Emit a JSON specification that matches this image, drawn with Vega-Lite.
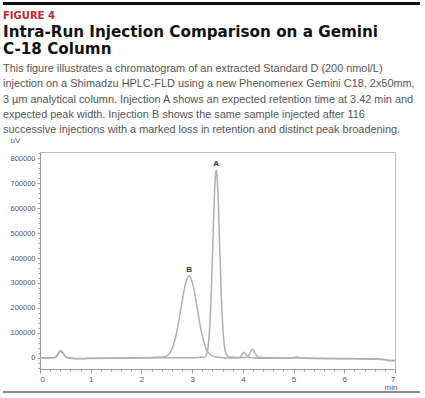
{
  "$schema": "https://vega.github.io/schema/vega-lite/v6.json",
  "padding": {"left": 3, "top": 2, "right": 2, "bottom": 2},
  "spacing": 0,
  "config": {"view": {"stroke": null}, "font": "Liberation Sans"},
  "vconcat": [
    {
      "width": 417,
      "height": 3,
      "data": {"values": [{"part": "top rule"}]},
      "mark": {"type": "rect", "color": "#111111"},
      "encoding": {},
      "title": {
        "text": "FIGURE 4",
        "subtitle": " ",
        "orient": "bottom",
        "anchor": "start",
        "frame": "group",
        "offset": 6,
        "font": "DejaVu Sans",
        "fontSize": 10,
        "fontWeight": "bold",
        "color": "#c1272d",
        "subtitleFontSize": 3,
        "subtitlePadding": 0.5
      }
    },
    {
      "width": 392,
      "height": 217,
      "title": {
        "text": ["Intra-Run Injection Comparison on a Gemini", "C-18 Column"],
        "subtitle": [
          "This figure illustrates a chromatogram of an extracted Standard D (200 nmol/L)",
          "injection on a Shimadzu HPLC-FLD using a new Phenomenex Gemini C18, 2x50mm,",
          "3 µm analytical column. Injection A shows an expected retention time at 3.42 min and",
          "expected peak width. Injection B shows the same sample injected after 116",
          "successive injections with a marked loss in retention and distinct peak broadening."
        ],
        "anchor": "start",
        "frame": "group",
        "offset": 1,
        "font": "DejaVu Sans",
        "fontSize": 15.2,
        "fontWeight": "bold",
        "color": "#111111",
        "lineHeight": 16.5,
        "subtitleFont": "Liberation Sans",
        "subtitleFontSize": 10.9,
        "subtitleColor": "#555555",
        "subtitleLineHeight": 15.25,
        "subtitlePadding": 6
      },
      "resolve": {"axis": {"x": "independent", "y": "independent"}},
      "layer": [
        {
          "data": {
            "values": [
              {"s": "A", "t": 0, "v": 0},
              {"s": "A", "t": 0.2, "v": 500},
              {"s": "A", "t": 0.3, "v": 1600},
              {"s": "A", "t": 0.33, "v": 8000},
              {"s": "A", "t": 0.37, "v": 21000},
              {"s": "A", "t": 0.41, "v": 29000},
              {"s": "A", "t": 0.45, "v": 21000},
              {"s": "A", "t": 0.49, "v": 8500},
              {"s": "A", "t": 0.53, "v": 2500},
              {"s": "A", "t": 0.6, "v": -1000},
              {"s": "A", "t": 0.7, "v": -2500},
              {"s": "A", "t": 0.85, "v": -3000},
              {"s": "A", "t": 1.0, "v": -1500},
              {"s": "A", "t": 1.5, "v": -1000},
              {"s": "A", "t": 2.0, "v": -500},
              {"s": "A", "t": 2.5, "v": 0},
              {"s": "A", "t": 3.0, "v": 500},
              {"s": "A", "t": 3.15, "v": 1500},
              {"s": "A", "t": 3.25, "v": 3000},
              {"s": "A", "t": 3.29, "v": 16500},
              {"s": "A", "t": 3.32, "v": 51700},
              {"s": "A", "t": 3.35, "v": 132000},
              {"s": "A", "t": 3.38, "v": 275000},
              {"s": "A", "t": 3.41, "v": 470000},
              {"s": "A", "t": 3.44, "v": 656000},
              {"s": "A", "t": 3.46, "v": 733000},
              {"s": "A", "t": 3.475, "v": 752000},
              {"s": "A", "t": 3.49, "v": 733000},
              {"s": "A", "t": 3.51, "v": 656000},
              {"s": "A", "t": 3.54, "v": 470000},
              {"s": "A", "t": 3.57, "v": 275000},
              {"s": "A", "t": 3.6, "v": 140000},
              {"s": "A", "t": 3.63, "v": 58000},
              {"s": "A", "t": 3.66, "v": 22000},
              {"s": "A", "t": 3.7, "v": 7000},
              {"s": "A", "t": 3.75, "v": 3000},
              {"s": "A", "t": 3.85, "v": 1500},
              {"s": "A", "t": 3.95, "v": 1000},
              {"s": "A", "t": 4.05, "v": 1200},
              {"s": "A", "t": 4.11, "v": 7000},
              {"s": "A", "t": 4.15, "v": 23000},
              {"s": "A", "t": 4.19, "v": 34000},
              {"s": "A", "t": 4.23, "v": 23000},
              {"s": "A", "t": 4.27, "v": 8000},
              {"s": "A", "t": 4.31, "v": 2000},
              {"s": "A", "t": 4.4, "v": 500},
              {"s": "A", "t": 4.6, "v": 0},
              {"s": "A", "t": 5.0, "v": -500},
              {"s": "A", "t": 5.3, "v": -1500},
              {"s": "A", "t": 5.6, "v": -2500},
              {"s": "A", "t": 6.0, "v": -3000},
              {"s": "A", "t": 6.5, "v": -4000},
              {"s": "A", "t": 6.8, "v": -7000},
              {"s": "A", "t": 6.9, "v": -11000},
              {"s": "A", "t": 7.0, "v": -11000},
              {"s": "B", "t": 0, "v": -1000},
              {"s": "B", "t": 0.2, "v": -500},
              {"s": "B", "t": 0.3, "v": 1000},
              {"s": "B", "t": 0.33, "v": 6000},
              {"s": "B", "t": 0.37, "v": 18000},
              {"s": "B", "t": 0.41, "v": 25000},
              {"s": "B", "t": 0.45, "v": 18000},
              {"s": "B", "t": 0.49, "v": 7000},
              {"s": "B", "t": 0.53, "v": 1500},
              {"s": "B", "t": 0.6, "v": -2000},
              {"s": "B", "t": 0.7, "v": -3500},
              {"s": "B", "t": 0.85, "v": -4000},
              {"s": "B", "t": 1.0, "v": -2500},
              {"s": "B", "t": 1.5, "v": -1500},
              {"s": "B", "t": 2.0, "v": 0},
              {"s": "B", "t": 2.2, "v": 1000},
              {"s": "B", "t": 2.3, "v": 2000},
              {"s": "B", "t": 2.4, "v": 3000},
              {"s": "B", "t": 2.5, "v": 7500},
              {"s": "B", "t": 2.6, "v": 34000},
              {"s": "B", "t": 2.7, "v": 106500},
              {"s": "B", "t": 2.78, "v": 199000},
              {"s": "B", "t": 2.85, "v": 280000},
              {"s": "B", "t": 2.9, "v": 318000},
              {"s": "B", "t": 2.94, "v": 328000},
              {"s": "B", "t": 2.98, "v": 318000},
              {"s": "B", "t": 3.03, "v": 280000},
              {"s": "B", "t": 3.1, "v": 199000},
              {"s": "B", "t": 3.18, "v": 106500},
              {"s": "B", "t": 3.28, "v": 34000},
              {"s": "B", "t": 3.38, "v": 9000},
              {"s": "B", "t": 3.48, "v": 3000},
              {"s": "B", "t": 3.6, "v": 500},
              {"s": "B", "t": 3.8, "v": -1000},
              {"s": "B", "t": 3.92, "v": -500},
              {"s": "B", "t": 3.96, "v": 5000},
              {"s": "B", "t": 3.99, "v": 15000},
              {"s": "B", "t": 4.02, "v": 22000},
              {"s": "B", "t": 4.06, "v": 14000},
              {"s": "B", "t": 4.1, "v": 4000},
              {"s": "B", "t": 4.15, "v": 0},
              {"s": "B", "t": 4.3, "v": -1500},
              {"s": "B", "t": 4.6, "v": -2000},
              {"s": "B", "t": 4.95, "v": -2000},
              {"s": "B", "t": 5.0, "v": 0},
              {"s": "B", "t": 5.06, "v": 4000},
              {"s": "B", "t": 5.12, "v": 0},
              {"s": "B", "t": 5.3, "v": -1500},
              {"s": "B", "t": 5.6, "v": -3000},
              {"s": "B", "t": 6.0, "v": -4000},
              {"s": "B", "t": 6.5, "v": -5000},
              {"s": "B", "t": 6.8, "v": -8000},
              {"s": "B", "t": 6.9, "v": -12000},
              {"s": "B", "t": 7.0, "v": -11000}
            ]
          },
          "mark": {"type": "line", "color": "#b0b0b0", "strokeWidth": 1.5, "interpolate": "monotone"},
          "encoding": {
            "detail": {"field": "s"},
            "x": {
              "field": "t",
              "type": "quantitative",
              "scale": {"domain": [0, 7], "nice": false, "range": [37, 392]},
              "axis": {
                "orient": "bottom",
                "values": [0, 1, 2, 3, 4, 5, 6, 7],
                "grid": false,
                "title": "min",
                "titleX": 394,
                "titleY": 20,
                "titleAlign": "right",
                "titleBaseline": "alphabetic",
                "titleFontSize": 8,
                "titleFontWeight": "normal",
                "titleColor": "#555555",
                "labelFontSize": 8,
                "labelColor": "#555555",
                "labelPadding": 2,
                "tickSize": 4,
                "tickColor": "#999999",
                "domainColor": "#999999"
              }
            },
            "y": {
              "field": "v",
              "type": "quantitative",
              "scale": {"domain": [-45000, 825000], "nice": false, "zero": false},
              "axis": {
                "orient": "left",
                "offset": -37,
                "values": [0, 100000, 200000, 300000, 400000, 500000, 600000, 700000, 800000],
                "format": "d",
                "grid": false,
                "title": "uV",
                "titleAngle": 0,
                "titleX": -30,
                "titleY": -10,
                "titleAlign": "left",
                "titleBaseline": "alphabetic",
                "titleFontSize": 8,
                "titleFontWeight": "normal",
                "titleColor": "#555555",
                "labelFontSize": 7.5,
                "labelColor": "#555555",
                "labelPadding": 2,
                "tickSize": 3,
                "tickColor": "#999999",
                "domainColor": "#999999"
              }
            }
          }
        },
        {
          "data": {
            "values": [
              {"label": "A", "t": 3.475, "v": 752000},
              {"label": "B", "t": 2.94, "v": 328000}
            ]
          },
          "mark": {"type": "text", "dy": -4, "baseline": "alphabetic", "fontSize": 8, "fontWeight": "bold", "color": "#333333"},
          "encoding": {
            "text": {"field": "label"},
            "x": {
              "field": "t",
              "type": "quantitative",
              "axis": {
                "orient": "bottom",
                "values": [0, 0.2, 0.4, 0.6, 0.8, 1, 1.2, 1.4, 1.6, 1.8, 2, 2.2, 2.4, 2.6, 2.8, 3, 3.2, 3.4, 3.6, 3.8, 4, 4.2, 4.4, 4.6, 4.8, 5, 5.2, 5.4, 5.6, 5.8, 6, 6.2, 6.4, 6.6, 6.8, 7],
                "labels": false,
                "domain": false,
                "grid": false,
                "title": null,
                "tickSize": 2,
                "tickColor": "#999999"
              }
            },
            "y": {
              "field": "v",
              "type": "quantitative",
              "axis": {
                "orient": "left",
                "offset": -37,
                "values": [-40000, -20000, 0, 20000, 40000, 60000, 80000, 100000, 120000, 140000, 160000, 180000, 200000, 220000, 240000, 260000, 280000, 300000, 320000, 340000, 360000, 380000, 400000, 420000, 440000, 460000, 480000, 500000, 520000, 540000, 560000, 580000, 600000, 620000, 640000, 660000, 680000, 700000, 720000, 740000, 760000, 780000, 800000, 820000],
                "labels": false,
                "domain": false,
                "grid": false,
                "title": null,
                "tickSize": 2,
                "tickColor": "#999999"
              }
            }
          }
        },
        {
          "data": {
            "values": [
              {"label": "A", "t": 3.475, "v": 752000},
              {"label": "B", "t": 2.94, "v": 328000}
            ]
          },
          "mark": {"type": "point", "opacity": 0},
          "encoding": {
            "x": {
              "field": "t",
              "type": "quantitative",
              "axis": {"orient": "top", "ticks": false, "labels": false, "grid": false, "title": null, "domainColor": "#bbbbbb"}
            },
            "y": {
              "field": "v",
              "type": "quantitative",
              "axis": {"orient": "right", "ticks": false, "labels": false, "grid": false, "title": null, "domainColor": "#bbbbbb"}
            }
          }
        }
      ]
    },
    {
      "width": 417,
      "height": 2,
      "data": {"values": [{"part": "bottom rule"}]},
      "mark": {"type": "rect", "color": "#8a8a8a"},
      "encoding": {}
    }
  ]
}
